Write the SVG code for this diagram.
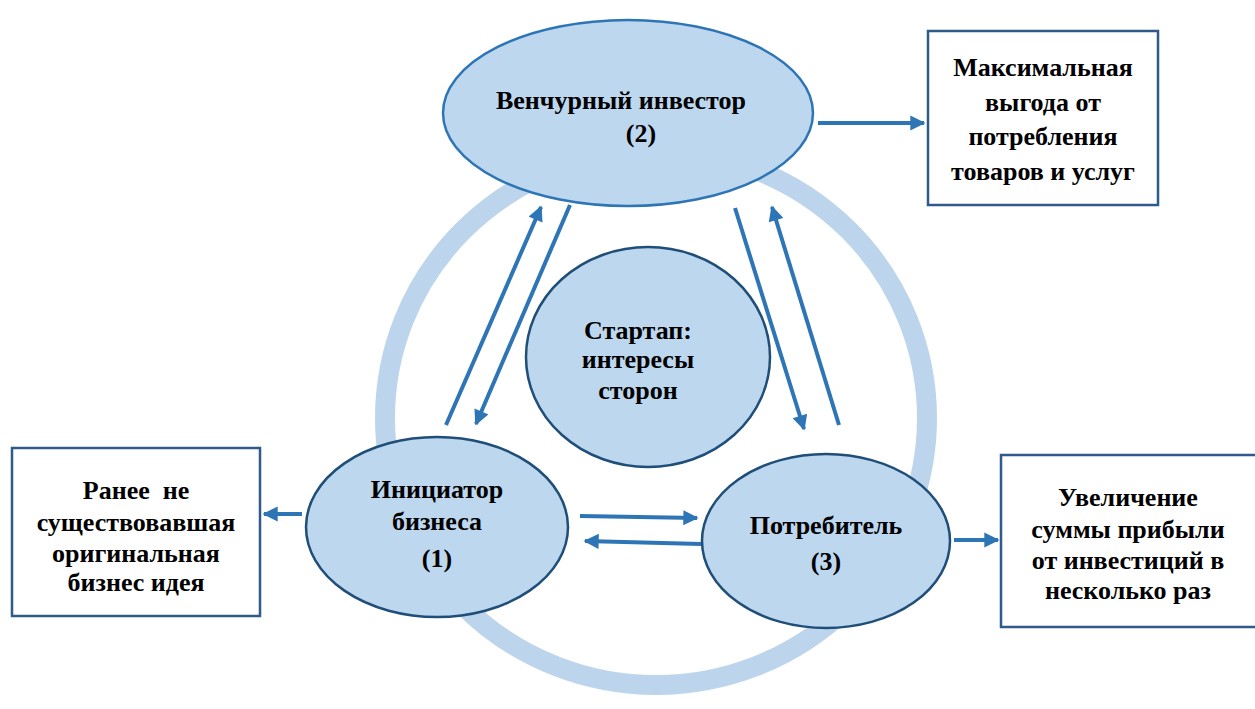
<svg xmlns="http://www.w3.org/2000/svg" width="1255" height="709" viewBox="0 0 1255 709">
<defs>
<style>
.t{font-family:"Liberation Serif","Times New Roman",serif;font-weight:bold;font-size:26px;fill:#000;text-anchor:middle}
.el{fill:#BDD7EE;stroke:#1F4E79;stroke-width:2.5}
.box{fill:#fff;stroke:#2F5A8A;stroke-width:2.5}
.ar{stroke:#2E75B6;stroke-width:4;fill:none;marker-end:url(#ah)}
</style>
<marker id="ah" viewBox="0 0 10 10" refX="9" refY="5" markerWidth="4.2" markerHeight="3.8" orient="auto" markerUnits="strokeWidth">
<path d="M0,0 L10,5 L0,10 z" fill="#2E75B6"/>
</marker>
</defs>
<rect width="1255" height="709" fill="#fff"/>
<ellipse id="ring" cx="656" cy="418" rx="271" ry="267" fill="none" stroke="#BDD5EC" stroke-width="20"/>
<g id="connectors">
<line class="ar" x1="446" y1="425" x2="541" y2="207"/>
<line class="ar" x1="570" y1="205" x2="476" y2="424"/>
<line class="ar" x1="735" y1="208" x2="804" y2="429"/>
<line class="ar" x1="839" y1="425" x2="772" y2="207"/>
<line class="ar" x1="580" y1="516" x2="697" y2="518"/>
<line class="ar" x1="701" y1="544" x2="585" y2="541"/>
<line class="ar" x1="818" y1="123" x2="924" y2="123"/>
<line class="ar" x1="302" y1="514" x2="264" y2="514"/>
<line class="ar" x1="954" y1="540" x2="998" y2="540"/>
</g>
<g id="investor">
<ellipse cx="628" cy="113" rx="185" ry="93" fill="#BDD7EE" stroke="#2E75B6" stroke-width="2.5"/>
<text class="t" x="621" y="109">Венчурный инвестор</text>
<text class="t" x="641" y="142">(2)</text>
</g>
<g id="startup">
<ellipse class="el" cx="648" cy="357" rx="122" ry="110"/>
<text class="t" x="638" y="339">Стартап:</text>
<text class="t" x="638" y="368">интересы</text>
<text class="t" x="638" y="399">сторон</text>
</g>
<g id="initiator">
<ellipse class="el" cx="437" cy="527" rx="131" ry="90"/>
<text class="t" x="437" y="498">Инициатор</text>
<text class="t" x="437" y="530">бизнеса</text>
<text class="t" x="437" y="567">(1)</text>
</g>
<g id="consumer">
<ellipse class="el" cx="826" cy="541" rx="124" ry="87"/>
<text class="t" x="826" y="534">Потребитель</text>
<text class="t" x="826" y="570">(3)</text>
</g>
<g id="box-benefit">
<rect class="box" x="928" y="31" width="230" height="174"/>
<text class="t" x="1043" y="76">Максимальная</text>
<text class="t" x="1043" y="111">выгода от</text>
<text class="t" x="1043" y="145">потребления</text>
<text class="t" x="1043" y="180">товаров и услуг</text>
</g>
<g id="box-idea">
<rect class="box" x="12" y="448" width="248" height="168"/>
<text class="t" x="136" y="499" xml:space="preserve">Ранее  не</text>
<text class="t" x="136" y="531">существовавшая</text>
<text class="t" x="136" y="562">оригинальная</text>
<text class="t" x="136" y="591">бизнес идея</text>
</g>
<g id="box-profit">
<rect class="box" x="1001" y="455" width="256" height="172"/>
<text class="t" x="1128" y="506">Увеличение</text>
<text class="t" x="1128" y="538">суммы прибыли</text>
<text class="t" x="1128" y="569">от инвестиций в</text>
<text class="t" x="1128" y="599">несколько раз</text>
</g>
</svg>
